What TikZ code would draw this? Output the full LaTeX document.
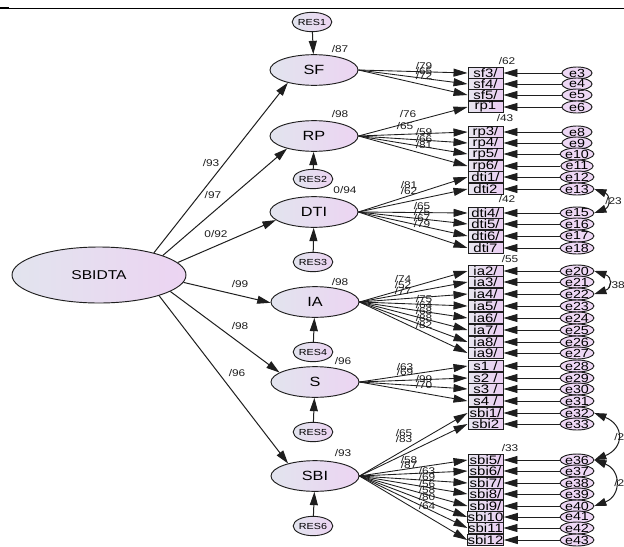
\documentclass[tikz,border=0pt]{standalone}
\usepackage{fontspec}
\setmainfont{Liberation Sans}[FakeStretch=1.22]
\usetikzlibrary{arrows.meta,shapes.geometric}
\definecolor{latL}{RGB}{226,228,238}
\definecolor{latR}{RGB}{236,212,242}
\definecolor{boxL}{RGB}{232,230,240}
\definecolor{boxR}{RGB}{234,206,242}
\definecolor{ln}{RGB}{30,30,30}
\tikzset{
  lat/.style={ellipse, draw=ln, line width=0.7pt, left color=latL, right color=latR,
    minimum width=66pt, minimum height=23pt, inner sep=0pt, font=\fontsize{10}{11}\selectfont},
  res/.style={ellipse, draw=ln, line width=0.7pt, left color=latL, right color=latR,
    minimum width=25.5pt, minimum height=14.5pt, inner sep=0pt, font=\fontsize{6.6}{7}\selectfont},
  ind/.style={rectangle, draw=ln, line width=0.7pt, left color=boxL, right color=boxR,
    minimum width=26.25pt, minimum height=8.4pt, inner sep=0pt, font=\fontsize{9.2}{9}\selectfont},
  err/.style={ellipse, draw=ln, line width=0.7pt, fill=boxR!80!white,
    minimum width=22.5pt, minimum height=9pt, inner sep=0pt, font=\fontsize{8.8}{8}\selectfont},
  arr/.style={draw=ln, line width=0.65pt, -{Triangle[length=10.5pt,width=6pt]}},
  sarr/.style={draw=ln, line width=0.75pt, -{Triangle[length=10pt,width=6pt]}},
  cov/.style={draw=ln, line width=0.75pt, {Triangle[length=9pt,width=6pt]}-{Triangle[length=9pt,width=6pt]}},
  lab/.style={font=\fontsize{7.3}{8}\selectfont, text=ln, inner sep=0pt},
}
\begin{document}
\begin{tikzpicture}[x=0.75pt,y=-0.75pt]
\useasboundingbox (0,0) rectangle (624,546);
\clip (0,0) rectangle (624,546);
\fill[white] (0,0) rectangle (624,546);
% top rule
\draw[line width=0.75pt] (0,8) -- (624,8);
\draw[line width=1.8pt] (0,8) -- (9,8);

% latent variables
\node[lat, minimum width=130.5pt, minimum height=42pt, font=\fontsize{9.6}{10}\selectfont] (SBIDTA) at (99,275) {SBIDTA};
\node[lat] (SF)  at (314,70)  {SF};
\node[lat] (RP)  at (314,136) {RP};
\node[lat] (DTI) at (314,212) {DTI};
\node[lat] (IA)  at (315,302) {IA};
\node[lat] (S)   at (315,382) {S};
\node[lat] (SBI) at (315,476) {SBI};

% residuals
\node[res] (RES1) at (312,22)  {RES1};
\node[res] (RES2) at (313,179) {RES2};
\node[res] (RES3) at (313,262) {RES3};
\node[res] (RES4) at (313,352) {RES4};
\node[res] (RES5) at (313,432) {RES5};
\node[res] (RES6) at (313,526) {RES6};
\draw[sarr] (RES1) -- (SF);
\draw[sarr] (RES2) -- (RP);
\draw[sarr] (RES3) -- (DTI);
\draw[sarr] (RES4) -- (IA);
\draw[sarr] (RES5) -- (S);
\draw[sarr] (RES6) -- (SBI);

% structural paths
\draw[sarr] (SBIDTA.22)  -- (SF.206);
\draw[sarr] (SBIDTA.17)  -- (RP.205);
\draw[sarr] (SBIDTA.9)   -- (DTI.192);
\draw[sarr] (SBIDTA.-5)  -- (IA.181);
\draw[sarr] (SBIDTA.-13) -- (S.165);
\draw[sarr] (SBIDTA.-19) -- (SBI.155);

% indicators and errors
\foreach \n/\y/\t/\e in {
  sf3/73/{sf3/}/e3, sf4/84/{sf4/}/e4, sf5/95/{sf5/}/e5, rp1/107/rp1/e6,
  rp3/132/{rp3/}/e8, rp4/143/{rp4/}/e9, rp5/154/{rp5/}/e10, rp6/166/{rp6/}/e11,
  dti1/177/{dti1/}/e12, dti2/189/dti2/e13,
  dti4/213/{dti4/}/e15, dti5/224/{dti5/}/e16, dti6/236/{dti6/}/e17, dti7/248/dti7/e18,
  ia2/271/{ia2/}/e20, ia3/282/{ia3/}/e21, ia4/294/{ia4/}/e22, ia5/306/{ia5/}/e23,
  ia6/318/{ia6/}/e24, ia7/330/{ia7/}/e25, ia8/342/{ia8/}/e26, ia9/353/{ia9/}/e27,
  s1/366/{s1 /}/e28, s2/378/{s2 /}/e29, s3/389/{s3 /}/e30, s4/401/{s4 /}/e31,
  sbi1/413/{sbi1/}/e32, sbi2/424/sbi2/e33,
  sbi5/460/{sbi5/}/e36, sbi6/471/{sbi6/}/e37, sbi7/483/{sbi7/}/e38, sbi8/494/{sbi8/}/e39,
  sbi9/506/{sbi9/}/e40, sbi10/517/sbi10/e41, sbi11/528/sbi11/e42, sbi12/540/sbi12/e43}
{
  \node[ind] (\n) at (485.5,\y) {\t};
  \node[err] (\e) at (577,\y) {\e};
  \draw[arr] (\e.west) -- (\n.east);
}

% loadings
\foreach \n in {sf3,sf4,sf5} \draw[arr] (SF.east) -- (\n.west);
\foreach \n in {rp1,rp3,rp4,rp5,rp6} \draw[arr] (RP.east) -- (\n.west);
\foreach \n in {dti1,dti2,dti4,dti5,dti6,dti7} \draw[arr] (DTI.east) -- (\n.west);
\foreach \n in {ia2,ia3,ia4,ia5,ia6,ia7,ia8,ia9} \draw[arr] (IA.east) -- (\n.west);
\foreach \n in {s1,s2,s3,s4} \draw[arr] (S.east) -- (\n.west);
\foreach \n in {sbi1,sbi2,sbi5,sbi6,sbi7,sbi8,sbi9,sbi10,sbi11,sbi12} \draw[arr] (SBI.east) -- (\n.west);

% covariances
\draw[cov] (e13.east) .. controls +(16,6) and +(16,-6) .. (e15.east);
\draw[cov] (e20.east) .. controls +(18,6) and +(18,-6) .. (e22.east);
\draw[cov] (e32.east) .. controls +(30,12) and +(30,-12) .. (e36.east);
\draw[cov] (e36.east) .. controls +(27,10) and +(27,-10) .. (e40.east);
\node[lab, anchor=west] (c1) at (605,201) {/23};
\node[lab, anchor=west] (c2) at (608,285) {/38};
\node[lab, anchor=west] (c3) at (614,437) {/2};
\node[lab, anchor=west] (c4) at (614,483) {/2};

% structural labels
\node[lab] (l1) at (211,163) {/93};
\node[lab] (l2) at (213,195) {/97};
\node[lab] (l3) at (216,234) {0/92};
\node[lab] (l4) at (240,284) {/99};
\node[lab] (l5) at (240,326) {/98};
\node[lab] (l6) at (237,373) {/96};

% latent R2
\node[lab] (r1) at (340,49)  {/87};
\node[lab] (r2) at (340,114) {/98};
\node[lab] (r3) at (345,190) {0/94};
\node[lab] (r4) at (340,282) {/98};
\node[lab] (r5) at (343,361) {/96};
\node[lab] (r6) at (343,453) {/93};

% group labels
\node[lab] (g1) at (507,61)  {/62};
\node[lab] (g2) at (505,118) {/43};
\node[lab] (g3) at (507,199) {/42};
\node[lab] (g4) at (510,259) {/55};
\node[lab] (g5) at (510,448) {/33};

% loading labels
\foreach \x/\y/\t [count=\i] in {
  424/66/{/79}, 424/71/{/65}, 424/76/{/72},
  408/114/{/76}, 405/126/{/65}, 424/132/{/59}, 424/139/{/66}, 424/145/{/81},
  409/185/{/81}, 409/191/{/62}, 422/206/{/65}, 422/212/{/75}, 422/218/{/67}, 422/224/{/79},
  403/279/{/74}, 403/285/{/52}, 403/291/{/77}, 424/299/{/75}, 424/305/{/64}, 424/311/{/68}, 424/318/{/88}, 424/325/{/82},
  405/367/{/63}, 405/372/{/69}, 424/379/{/99}, 424/385/{/70},
  404/433/{/65}, 404/439/{/83}, 409/460/{/58}, 409/465/{/87},
  427/471/{/63}, 427/477/{/69}, 427/484/{/56}, 427/490/{/58}, 427/497/{/80}, 427/506/{/64}}
  \node[lab] (ll\i) at (\x,\y) {\t};
\end{tikzpicture}
\end{document}
